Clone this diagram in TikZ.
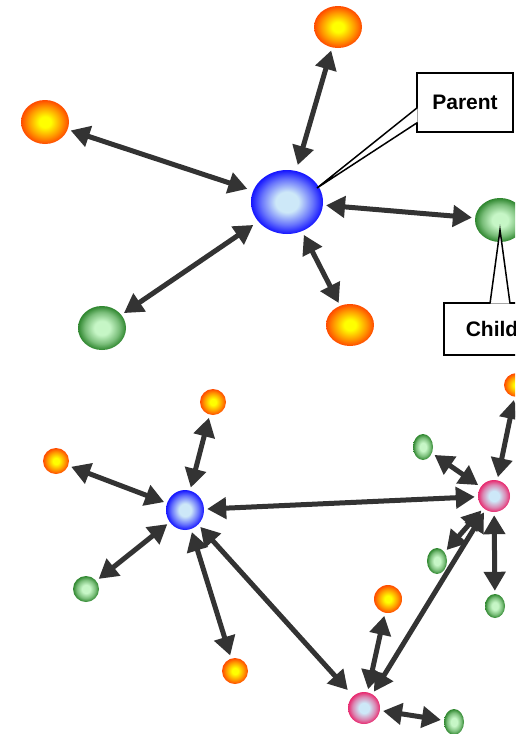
\documentclass[tikz,border=0pt]{standalone}
\usepackage{fontspec}
\setsansfont{Liberation Sans}
\usetikzlibrary{arrows.meta,shapes.geometric,calc}

\definecolor{linkgray}{HTML}{333333}
\definecolor{ballyellow}{HTML}{FFFF00}
\definecolor{ballorange}{HTML}{FF9A00}
\definecolor{ballred}{HTML}{FF4A00}
\definecolor{ballice}{HTML}{CDE8F8}
\definecolor{ballblue}{HTML}{1414FF}
\definecolor{ballmint}{HTML}{C6F6C6}
\definecolor{ballgreen}{HTML}{2E862E}
\definecolor{ballpink}{HTML}{E8286E}

\pgfdeclareradialshading{orangeball}{\pgfpoint{0bp}{0bp}}{color(0bp)=(ballyellow); color(6bp)=(ballyellow); color(17bp)=(ballorange); color(25bp)=(ballred); color(50bp)=(ballred)}
\pgfdeclareradialshading{blueball}{\pgfpoint{0bp}{0bp}}{color(0bp)=(ballice); color(8bp)=(ballice); color(18bp)=(ballblue!55!ballice); color(25bp)=(ballblue); color(50bp)=(ballblue)}
\pgfdeclareradialshading{greenball}{\pgfpoint{0bp}{0bp}}{color(0bp)=(ballmint); color(8bp)=(ballmint); color(18bp)=(ballgreen!50!ballmint); color(25bp)=(ballgreen); color(50bp)=(ballgreen)}
\pgfdeclareradialshading{pinkball}{\pgfpoint{0bp}{0bp}}{color(0bp)=(ballice); color(8bp)=(ballice); color(18bp)=(ballpink!50!ballice); color(25bp)=(ballpink); color(50bp)=(ballpink)}

\tikzset{
  ball/.style 2 args={ellipse,inner sep=0pt,minimum width=#1,minimum height=#2},
  oball/.style={shading=orangeball},
  bball/.style={shading=blueball},
  gball/.style={shading=greenball},
  pball/.style={shading=pinkball},
  link/.style={{Triangle[length=19pt,width=21pt]}-{Triangle[length=19pt,width=21pt]},
    line width=5pt,draw=linkgray,shorten <=3pt,shorten >=3pt},
  callbox/.style={draw,fill=white,line width=1.5pt,inner sep=0pt,
    font=\sffamily\bfseries\fontsize{21}{25}\selectfont}
}

\begin{document}
\begin{tikzpicture}[x=1pt,y=-1pt]
\useasboundingbox (0,0) rectangle (515,734);
\clip (0,0) rectangle (515,734);
\path node (a0) at (287,202) [bball,ball={72}{64}] {}
node (a1) at (338,27) [oball,ball={48}{42}] {}
node (a2) at (45,122) [oball,ball={48}{44}] {}
node (a3) at (102,328) [gball,ball={48}{44}] {}
node (a4) at (350,325) [oball,ball={48}{42}] {}
node (a5) at (500,220) [gball,ball={50}{44}] {};
\path node (b0) at (185,510) [bball,ball={38}{40}] {}
node (b1) at (213,402) [oball,ball={26}{26}] {}
node (b2) at (56,461) [oball,ball={26}{26}] {}
node (b3) at (86,589) [gball,ball={26}{26}] {}
node (b4) at (235,671) [oball,ball={26}{26}] {}
node (b5) at (494,496) [pball,ball={32}{32}] {}
node (b6) at (517,385) [oball,ball={26}{24}] {}
node (b7) at (423,447) [gball,ball={20}{26}] {}
node (b8) at (437,561) [gball,ball={20}{26}] {}
node (b9) at (495,606) [gball,ball={20}{24}] {}
node (b10) at (364,708) [pball,ball={32}{32}] {}
node (b11) at (388,599) [oball,ball={28}{28}] {}
node (b12) at (454,722) [gball,ball={20}{26}] {};
\draw[link,shorten <=6pt] (a0) -- (a1);
\draw[link,shorten <=6pt] (a0) -- (a2);
\draw[link,shorten <=6pt] (a0) -- (a3);
\draw[link,shorten <=4pt] (a0) -- (a4);
\draw[link] (a0) -- (a5);
\draw[link] (b0) -- (b1);
\draw[link] (b0) -- (b2);
\draw[link] (b0) -- (b3);
\draw[link] (b0) -- (b4);
\draw[link] (b0) -- (b5);
\draw[link,shorten >=8pt] (b0) -- (b10);
\draw[link] (b5) -- (b6);
\draw[link] (b5) -- (b7);
\draw[link] (b5) -- (b8);
\draw[link] (b5) -- (b9);
\draw[link] (b5) -- (b10);
\draw[link] (b10) -- (b11);
\draw[link] (b10) -- (b12);
\node[callbox,minimum width=96,minimum height=59] (c0) at (465,102.5) {Parent};
\node[callbox,minimum width=96,minimum height=52] (c1) at (492,329) {Child};
\coordinate (k0) at (317,188);
\coordinate (k1) at (500,230);
\filldraw[fill=white,line width=1.5pt] ($(c0.west)+(1.25,5)$) -- (k0) -- ($(c0.west)+(1.25,20)$);
\filldraw[fill=white,line width=1.5pt] ($(c1.north)+(-2,1.25)$) -- (k1) -- ($(c1.north)+(18,1.25)$);
\end{tikzpicture}
\end{document}
